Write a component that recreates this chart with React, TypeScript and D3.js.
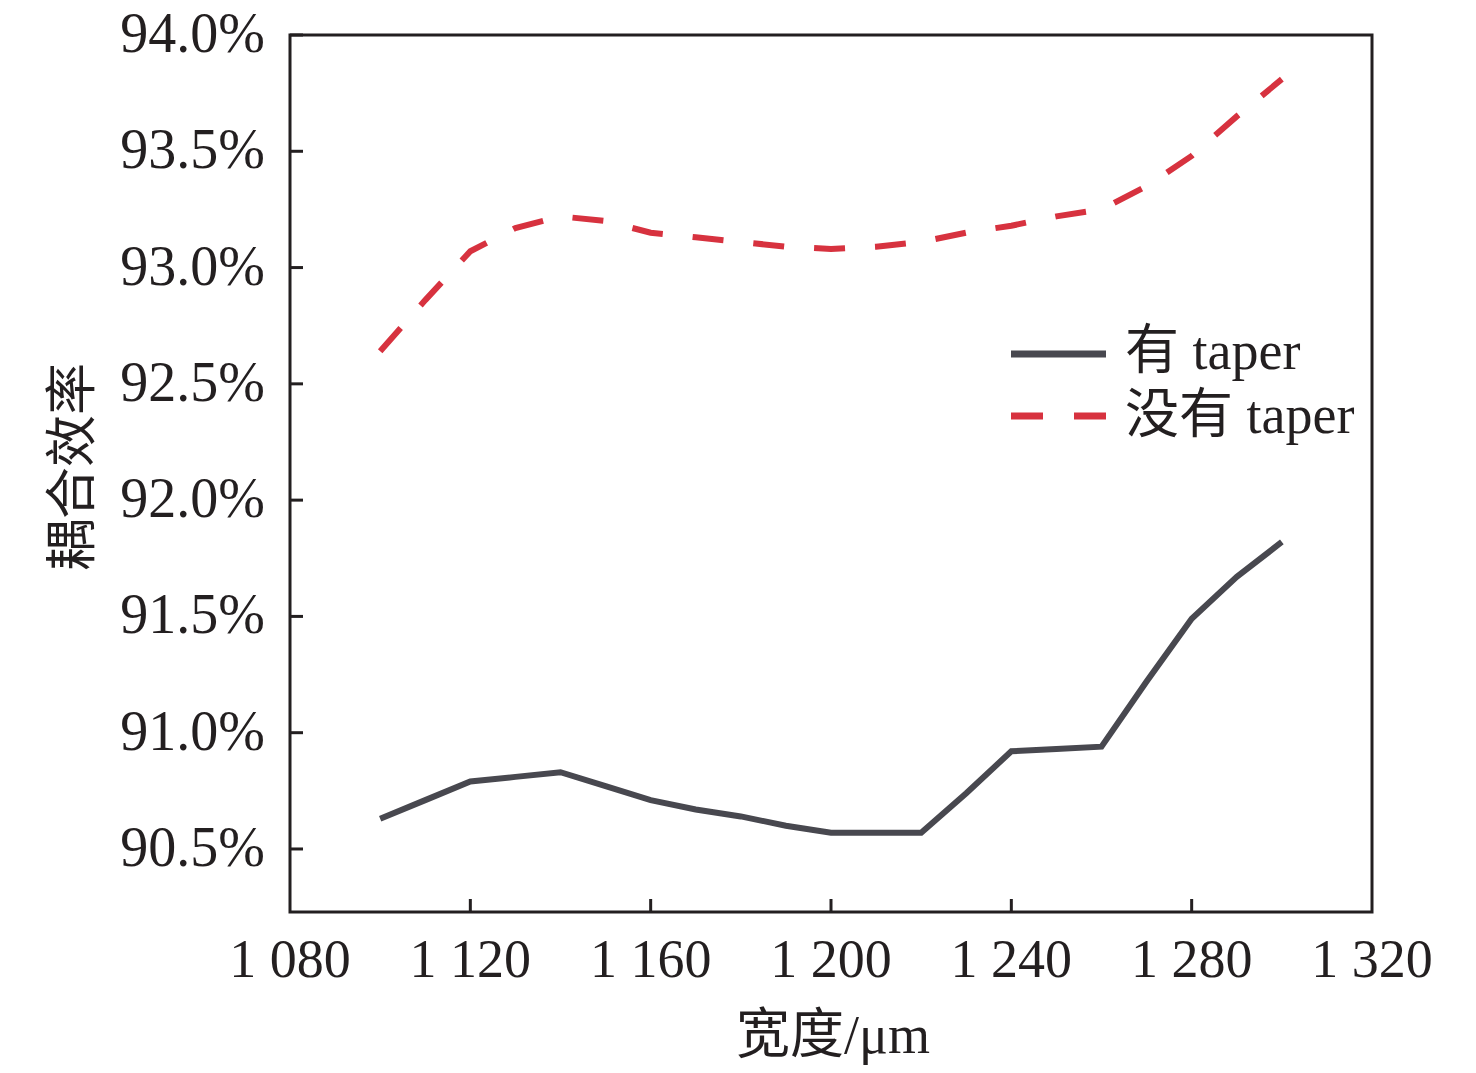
import React, { useEffect, useRef } from 'react'
import * as d3 from 'd3'

const widths = [1100, 1110, 1120, 1130, 1140, 1150, 1160, 1170, 1180, 1190, 1200, 1210, 1220, 1230, 1240, 1250, 1260, 1270, 1280, 1290, 1300]
const withTaper = [90.63, 90.71, 90.79, 90.81, 90.83, 90.77, 90.71, 90.67, 90.64, 90.6, 90.57, 90.57, 90.57, 90.74, 90.92, 90.93, 90.94, 91.22, 91.49, 91.67, 91.82]
const withoutTaper = [92.64, 92.86, 93.07, 93.17, 93.22, 93.2, 93.15, 93.13, 93.11, 93.09, 93.08, 93.09, 93.11, 93.15, 93.18, 93.22, 93.25, 93.35, 93.48, 93.65, 93.81]
const xTicks = [1080, 1120, 1160, 1200, 1240, 1280, 1320]
const yTicks = [90.5, 91.0, 91.5, 92.0, 92.5, 93.0, 93.5, 94.0]
const seriesNames = ['有 taper', '没有 taper']

const FONT = '"Liberation Serif", "Times New Roman", "Noto Sans CJK SC", serif'
const INK = '#231f20'
const GRAY = '#48484f'
const RED = '#d7323f'

export default function App() {
  const ref = useRef<SVGSVGElement | null>(null)

  useEffect(() => {
    const svg = d3.select(ref.current!)
    svg.selectAll('*').remove()
    const left = 290, right = 1372, top = 35, bottom = 912

    const x = d3.scaleLinear().domain([1080, 1320]).range([left, right])
    const y = d3.scaleLinear().domain([90.229, 94.0]).range([bottom, top])

    // frame
    svg.append('rect').attr('x', left).attr('y', top).attr('width', right - left).attr('height', bottom - top)
      .attr('fill', 'none').attr('stroke', INK).attr('stroke-width', 3)

    // y ticks (inward) and labels
    const gy = svg.append('g')
    gy.selectAll('line').data(yTicks).enter().append('line')
      .attr('x1', left).attr('x2', left + 13).attr('y1', d => y(d)).attr('y2', d => y(d))
      .attr('stroke', INK).attr('stroke-width', 3)
    gy.selectAll('text').data(yTicks).enter().append('text')
      .attr('x', left - 25).attr('y', d => y(d) + 17)
      .attr('text-anchor', 'end').attr('font-family', FONT).attr('font-size', 56).attr('fill', INK)
      .text(d => d.toFixed(1) + '%')

    // x ticks (inward) and labels
    const gx = svg.append('g')
    gx.selectAll('line').data(xTicks.slice(1, -1)).enter().append('line')
      .attr('x1', d => x(d)).attr('x2', d => x(d)).attr('y1', bottom).attr('y2', bottom - 13)
      .attr('stroke', INK).attr('stroke-width', 3)
    gx.selectAll('text').data(xTicks).enter().append('text')
      .attr('x', d => x(d)).attr('y', 977)
      .attr('text-anchor', 'middle').attr('font-family', FONT).attr('font-size', 54).attr('fill', INK)
      .text(d => String(d).slice(0, 1) + ' ' + String(d).slice(1))

    // axis titles
    svg.append('text').attr('x', 833).attr('y', 1053).attr('text-anchor', 'middle')
      .attr('font-family', FONT).attr('font-size', 54).attr('fill', INK).text('宽度/μm')
    svg.append('text').attr('transform', 'translate(90,467) rotate(-90)').attr('text-anchor', 'middle')
      .attr('font-family', FONT).attr('font-size', 52).attr('fill', INK).text('耦合效率')

    const line = d3.line<number>().x((_, i) => x(widths[i])).y(d => y(d))

    svg.append('path').datum(withTaper).attr('d', line).attr('fill', 'none')
      .attr('stroke', GRAY).attr('stroke-width', 6)
    svg.append('path').datum(withoutTaper).attr('d', line).attr('fill', 'none')
      .attr('stroke', RED).attr('stroke-width', 6).attr('stroke-dasharray', '31 30')

    // legend
    const lg = svg.append('g')
    lg.append('line').attr('x1', 1011).attr('x2', 1106).attr('y1', 354).attr('y2', 354)
      .attr('stroke', GRAY).attr('stroke-width', 7)
    lg.append('line').attr('x1', 1011).attr('x2', 1106).attr('y1', 416).attr('y2', 416)
      .attr('stroke', RED).attr('stroke-width', 7).attr('stroke-dasharray', '32 31')
    lg.selectAll('text').data(seriesNames).enter().append('text')
      .attr('x', 1125).attr('y', (_, i) => 369 + i * 64)
      .attr('font-family', FONT).attr('font-size', 54).attr('fill', INK)
      .text(d => d)
  }, [])

  return <svg ref={ref} width={1476} height={1073} style={{ position: 'absolute', left: 0, top: 0, background: '#fff' }} />
}
